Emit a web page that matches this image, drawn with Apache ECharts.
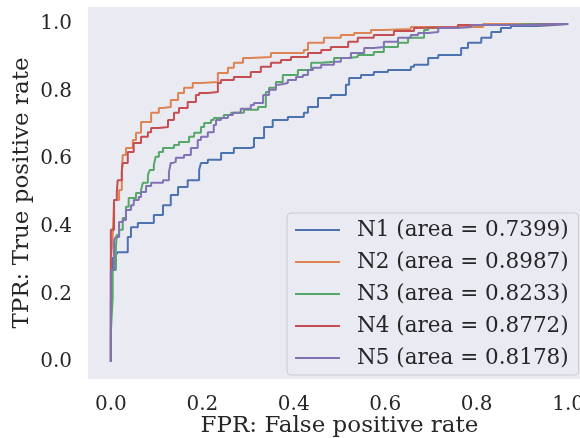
<!DOCTYPE html>
<html>
<head>
<meta charset="utf-8">
<script src="https://cdn.jsdelivr.net/npm/echarts@6/dist/echarts.min.js"></script>
<style>html,body{margin:0;padding:0;background:#fff;}#c{width:580px;height:438px;}</style>
</head>
<body>
<div id="c"></div>
<script>
const seriesNames = ["N1", "N2", "N3", "N4", "N5"];
const areas = ["0.7399", "0.8987", "0.8233", "0.8772", "0.8178"];
const colors = ["#4C72B0", "#DD8452", "#55A868", "#C44E52", "#8172B3"];
const tickValues = [0, 0.2, 0.4, 0.6, 0.8, 1.0];

const n1 = [[0,0],[0.004,0.178],[0.004,0.311],[0.011,0.281],[0.015,0.317],[0.020,0.325],[0.037,0.325],[0.044,0.370],[0.059,0.399],[0.094,0.411],[0.114,0.435],[0.131,0.464],[0.147,0.494],[0.168,0.518],[0.193,0.538],[0.197,0.568],[0.212,0.589],[0.241,0.598],[0.269,0.618],[0.306,0.633],[0.313,0.636],[0.335,0.663],[0.354,0.695],[0.387,0.716],[0.422,0.725],[0.431,0.737],[0.453,0.754],[0.481,0.781],[0.514,0.790],[0.521,0.820],[0.547,0.840],[0.575,0.849],[0.606,0.858],[0.656,0.864],[0.663,0.873],[0.694,0.879],[0.716,0.899],[0.766,0.908],[0.781,0.929],[0.810,0.944],[0.832,0.959],[0.853,0.976],[0.875,0.988],[0.934,0.994],[0.967,0.997],[0.969,1.0],[1,1]];
const n2 = [[0,0],[0.004,0.302],[0.007,0.370],[0.018,0.479],[0.024,0.509],[0.026,0.559],[0.033,0.612],[0.048,0.633],[0.055,0.657],[0.066,0.678],[0.088,0.710],[0.105,0.737],[0.114,0.751],[0.131,0.754],[0.147,0.775],[0.160,0.796],[0.179,0.811],[0.197,0.825],[0.234,0.828],[0.256,0.855],[0.269,0.870],[0.289,0.885],[0.306,0.899],[0.350,0.902],[0.394,0.914],[0.422,0.914],[0.431,0.923],[0.466,0.944],[0.503,0.959],[0.532,0.967],[0.569,0.973],[0.597,0.982],[0.656,0.985],[0.678,0.991],[0.814,0.991],[0.816,1.0],[1,1]];
const n3 = [[0,0],[0.004,0.089],[0.004,0.192],[0.011,0.272],[0.013,0.340],[0.018,0.376],[0.026,0.391],[0.033,0.426],[0.039,0.459],[0.055,0.485],[0.066,0.500],[0.070,0.509],[0.081,0.530],[0.085,0.553],[0.094,0.568],[0.098,0.583],[0.105,0.607],[0.114,0.621],[0.138,0.633],[0.149,0.642],[0.171,0.651],[0.182,0.666],[0.197,0.678],[0.204,0.695],[0.219,0.707],[0.225,0.716],[0.247,0.722],[0.263,0.731],[0.291,0.737],[0.322,0.746],[0.339,0.754],[0.346,0.799],[0.361,0.811],[0.376,0.828],[0.409,0.849],[0.438,0.864],[0.460,0.885],[0.488,0.888],[0.519,0.899],[0.540,0.902],[0.575,0.908],[0.597,0.917],[0.628,0.932],[0.650,0.944],[0.685,0.959],[0.694,0.982],[0.759,0.988],[0.869,0.997],[0.926,1.0],[1,1]];
const n4 = [[0,0],[0,0.213],[0,0.391],[0.007,0.391],[0.007,0.444],[0.013,0.479],[0.015,0.503],[0.024,0.538],[0.026,0.568],[0.037,0.589],[0.050,0.621],[0.066,0.648],[0.081,0.666],[0.088,0.680],[0.105,0.692],[0.125,0.695],[0.138,0.716],[0.149,0.737],[0.168,0.751],[0.186,0.769],[0.193,0.790],[0.212,0.796],[0.234,0.799],[0.241,0.825],[0.269,0.834],[0.306,0.843],[0.328,0.858],[0.350,0.873],[0.372,0.885],[0.394,0.893],[0.431,0.902],[0.460,0.914],[0.481,0.923],[0.519,0.932],[0.540,0.947],[0.575,0.959],[0.619,0.967],[0.663,0.979],[0.672,0.988],[0.759,0.991],[0.897,0.997],[1,1]];
const n5 = [[0,0],[0,0.243],[0.007,0.272],[0.007,0.311],[0.011,0.361],[0.018,0.370],[0.026,0.414],[0.033,0.420],[0.044,0.450],[0.050,0.464],[0.061,0.479],[0.066,0.488],[0.077,0.503],[0.088,0.521],[0.114,0.530],[0.127,0.538],[0.131,0.562],[0.136,0.589],[0.142,0.592],[0.160,0.604],[0.175,0.612],[0.190,0.633],[0.197,0.657],[0.212,0.666],[0.225,0.680],[0.230,0.701],[0.241,0.716],[0.256,0.722],[0.267,0.731],[0.284,0.737],[0.306,0.749],[0.313,0.760],[0.333,0.766],[0.346,0.790],[0.361,0.805],[0.368,0.820],[0.387,0.825],[0.405,0.834],[0.420,0.843],[0.431,0.849],[0.442,0.864],[0.460,0.870],[0.488,0.879],[0.503,0.888],[0.525,0.899],[0.554,0.914],[0.575,0.929],[0.597,0.932],[0.628,0.947],[0.656,0.959],[0.672,0.967],[0.694,0.973],[0.716,0.976],[0.759,0.988],[0.788,0.991],[0.926,0.997],[0.969,1.0],[1,1]];
const curves = [n1, n2, n3, n4, n5];

const FONT = "DejaVu Serif";
const TXT = "#262626";
const chart = echarts.init(document.getElementById('c'), null, {renderer: 'canvas'});
const labels = seriesNames.map((n, i) => n + " (area = " + areas[i] + ")");
chart.setOption({
  animation: false,
  textStyle: {fontFamily: FONT, color: TXT},
  grid: {left: 88, top: 7, width: 503, height: 372, show: true, backgroundColor: '#EAEAF2', borderWidth: 0, containLabel: false, outerBoundsMode: 'none'},
  xAxis: {
    type: 'value', min: -0.05, max: 1.05,
    axisLine: {show: false}, axisTick: {show: false}, splitLine: {show: false},
    axisLabel: {customValues: tickValues, fontFamily: FONT, fontSize: 20, color: TXT, margin: 16, formatter: v => v.toFixed(1)},
    name: 'FPR: False positive rate', nameLocation: 'middle', nameGap: 36, nameMoveOverlap: false,
    nameTextStyle: {fontFamily: FONT, fontSize: 23, color: TXT}
  },
  yAxis: {
    type: 'value', min: -0.05, max: 1.05,
    axisLine: {show: false}, axisTick: {show: false}, splitLine: {show: false},
    axisLabel: {customValues: tickValues, fontFamily: FONT, fontSize: 20, color: TXT, margin: 16, formatter: v => v.toFixed(1)},
    name: 'TPR: True positive rate', nameLocation: 'middle', nameGap: 54, nameMoveOverlap: false,
    nameTextStyle: {fontFamily: FONT, fontSize: 23, color: TXT}
  },
  legend: {
    orient: 'vertical', left: 287, top: 213,
    icon: 'rect', itemWidth: 45, itemHeight: 2, itemGap: 10,
    padding: [6, 10, 6, 8],
    backgroundColor: 'rgba(234,234,242,0.8)', borderColor: '#cccccc', borderWidth: 1, borderRadius: 4,
    textStyle: {fontFamily: FONT, fontSize: 21.5, color: TXT, lineHeight: 20, padding: [0, 0, 0, 12]},
    data: labels
  },
  series: curves.map((d, i) => ({
    name: labels[i], type: 'line', data: d, step: 'start',
    showSymbol: false, symbol: 'none', color: colors[i],
    lineStyle: {width: 2, color: colors[i]}
  }))
});
</script>
</body>
</html>
